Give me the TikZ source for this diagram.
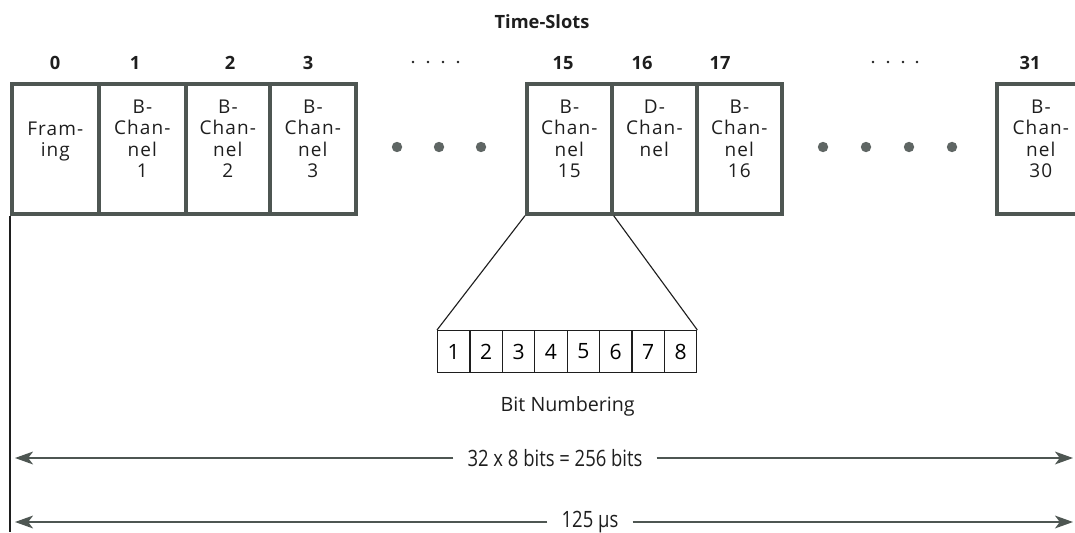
\documentclass[tikz,border=0pt]{standalone}
\usepackage{fontspec}
\setmainfont{Open Sans}
\newfontfamily\narrowfont[FakeStretch=0.82]{Open Sans}
\newfontfamily\slotfont[LetterSpace=6]{Open Sans}
\usepackage{xcolor}
\usepackage{tikz}
\usetikzlibrary{arrows.meta, positioning}
\definecolor{framegray}{RGB}{78,86,82}
\definecolor{dotgray}{RGB}{95,102,100}
\definecolor{inkblack}{RGB}{30,30,30}

\begin{document}
\begin{tikzpicture}[x=0.025cm, y=-0.025cm,
      slot/.style={draw=framegray, line width=2.6pt, minimum width=#1,
                   minimum height=3.25cm, inner sep=0pt, anchor=north west},
      slottext/.style={align=center, inner sep=0pt, text=inkblack,
                       font=\slotfont\fontsize{13.5}{15}\selectfont},
      slotnum/.style={text=inkblack, font=\bfseries\fontsize{13}{15}\selectfont},
      bit/.style={draw=inkblack, line width=0.8pt, minimum width=0.81cm,
                  minimum height=1.05cm, inner sep=0pt, anchor=north west,
                  font=\fontsize{15}{18}\selectfont},
      bigdot/.style={circle, fill=dotgray, inner sep=0pt, minimum size=0.26cm},
      smalldot/.style={circle, fill=inkblack, inner sep=0pt, minimum size=0.07cm},
      spanlabel/.style={inner xsep=0.35cm, text=inkblack,
                        font=\narrowfont\fontsize{16}{18}\selectfont},
      dimarrow/.style={-{Stealth[length=0.45cm, width=0.32cm, inset=0.12cm]},
                       draw=framegray, line width=1.3pt}
  ]
    \clip (0,0) rectangle (1075,532);

    \node[slotnum] (title) at (542,22) {Time-Slots};

    % frame of time-slots
    \node[slot=2.175cm] (s0) at (10,82) {};
    \node[slot=2.175cm] (s1) at (97,82) {};
    \node[slot=2.1cm] (s2) at (184,82) {};
    \node[slot=2.15cm] (s3) at (268,82) {};
    \node[slot=2.125cm] (s15) at (525,82) {};
    \node[slot=2.125cm] (s16) at (610,82) {};
    \node[slot=2.125cm] (s17) at (695,82) {};
    \node[slot=2.2cm] (s31) at (995,82) {};

    \node[slottext, below=0.98cm of s0.north] (t0) {Fram-\\ing};
    \node[slottext, below=0.45cm of s1.north] (t1) {B-\\Chan-\\nel\\1};
    \node[slottext, below=0.45cm of s2.north] (t2) {B-\\Chan-\\nel\\2};
    \node[slottext, below=0.45cm of s3.north] (t3) {B-\\Chan-\\nel\\3};
    \node[slottext, below=0.45cm of s15.north] (t15) {B-\\Chan-\\nel\\15};
    \node[slottext, below=0.45cm of s16.north] (t16) {D-\\Chan-\\nel};
    \node[slottext, below=0.45cm of s17.north] (t17) {B-\\Chan-\\nel\\16};
    \node[slottext, below=0.45cm of s31.north] (t31) {B-\\Chan-\\nel\\30};

    % slot numbers
    \node[slotnum] (n0) at (55,63) {0};
    \node[slotnum] (n1) at (135,63) {1};
    \node[slotnum] (n2) at (230,63) {2};
    \node[slotnum] (n3) at (308,63) {3};
    \node[slotnum] (n15) at (563,63) {15};
    \node[slotnum] (n16) at (642,63) {16};
    \node[slotnum] (n17) at (720,63) {17};
    \node[slotnum] (n31) at (1030,63) {31};

    \foreach \x in {413,428,443,458,873,888,903,917}
      \node[smalldot] (tick\x) at (\x,62) {};
    \foreach \x in {397,439,481,823,866,909,952}
      \node[bigdot] (dot\x) at (\x,147) {};

    % bits of one slot
    \foreach \i in {1,...,8}
      \node[bit] (b\i) at ({437+(\i-1)*32.4},330) {\i};
    \node[font=\fontsize{14}{17}\selectfont, text=inkblack,
          below=0.45cm of b4.south east] (bitlabel) {Bit Numbering};

    \draw[inkblack, line width=0.8pt] (s15.south west) -- (b1.north west);
    \draw[inkblack, line width=0.8pt] (s15.south east) -- (b8.north east);

    % frame length
    \coordinate (base) at (12,532);
    \draw[inkblack, line width=1pt] (s0.south west) -- (s0.south west |- base);

    \coordinate (bitsL) at (15,458);
    \coordinate (bitsR) at (1073,458);
    \node[spanlabel] (bits) at (555,458) {32 x 8 bits = 256 bits};
    \draw[dimarrow] (bits) -- (bitsL);
    \draw[dimarrow] (bits) -- (bitsR);

    \coordinate (timeL) at (15,522);
    \coordinate (timeR) at (1073,522);
    \node[spanlabel] (frame) at (590,522) {125 µs};
    \draw[dimarrow] (frame) -- (timeL);
    \draw[dimarrow] (frame) -- (timeR);
  \end{tikzpicture}
\end{document}
